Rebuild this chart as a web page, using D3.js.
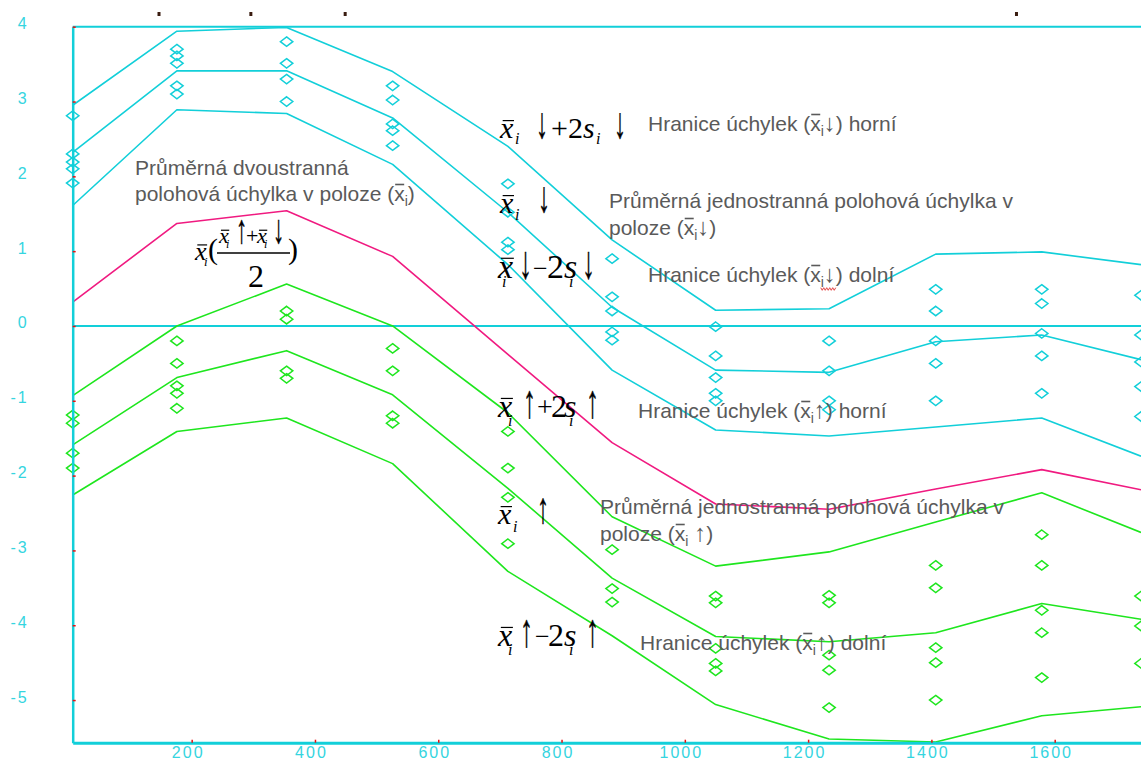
<!DOCTYPE html>
<html>
<head>
<meta charset="utf-8">
<script src="https://cdn.jsdelivr.net/npm/d3@7"></script>
<style>
  body { margin: 0; background: #fff; }
  svg { display: block; }
</style>
</head>
<body>
<svg id="chart" width="1141" height="760"></svg>
<script>
// Measurement positions along the travelled axis
const positions = [7, 176, 354, 526, 713, 882, 1050, 1234, 1407, 1579, 1740];

// Approach from above (x̄↓): mean and ±2s limits
const downUpper = [2.95, 3.94, 3.99, 3.40, 2.40, 1.15, 0.21, 0.23, 0.96, 0.99, 0.82];
const downMean  = [2.32, 3.41, 3.41, 2.78, 1.52, 0.25, -0.59, -0.62, -0.21, -0.12, -0.45];
const downLower = [1.61, 2.89, 2.84, 2.16, 0.82, -0.59, -1.39, -1.47, -1.35, -1.23, -1.74];

// Two-sided mean deviation x̄ = (x̄↑ + x̄↓) / 2
const bothMean = [0.32, 1.37, 1.54, 0.93, -0.38, -1.56, -2.38, -2.45, -2.18, -1.92, -2.19];

// Approach from below (x̄↑): mean and ±2s limits
const upUpper = [-0.93, 0.00, 0.56, 0.00, -1.16, -2.55, -3.21, -3.02, -2.62, -2.23, -2.76];
const upMean  = [-1.59, -0.69, -0.33, -0.92, -2.17, -3.37, -4.15, -4.22, -4.10, -3.71, -3.92];
const upLower = [-2.26, -1.41, -1.23, -1.84, -3.28, -4.14, -5.06, -5.52, -5.56, -5.21, -5.09];

// Individual readings at each position
const downReadings = [
  [2.81, 2.30, 2.19, 2.10, 1.91],
  [3.70, 3.61, 3.51, 3.21, 3.10],
  [3.80, 3.51, 3.30, 3.00],
  [3.21, 3.02, 2.70, 2.61, 2.41],
  [1.90, 1.52, 1.12, 1.02],
  [0.90, 0.39, 0.20, -0.08, -0.19],
  [-0.01, -0.40, -0.69, -0.90, -1.00],
  [-0.20, -0.60, -1.00, -1.12],
  [0.49, 0.20, -0.20, -0.50, -1.00],
  [0.49, 0.30, -0.10, -0.40, -0.90],
  [0.41, -0.12, -0.48, -0.81, -1.21]
];
const upReadings = [
  [-1.19, -1.30, -1.70, -1.90],
  [-0.20, -0.50, -0.80, -0.90, -1.10],
  [0.20, 0.09, -0.60, -0.70],
  [-0.30, -0.60, -1.20, -1.30],
  [-1.41, -1.90, -2.29, -2.91],
  [-2.99, -3.51, -3.69],
  [-3.61, -3.70, -4.31, -4.51, -4.61],
  [-3.60, -3.70, -4.40, -4.60, -5.10],
  [-3.20, -3.50, -4.30, -4.50, -5.00],
  [-2.79, -3.20, -3.80, -4.10, -4.70],
  [-3.61, -4.01, -4.51]
];

// Axis ticks
const xTicks = [200, 400, 600, 800, 1000, 1200, 1400, 1600];
const yTicks = [4, 3, 2, 1, 0, -1, -2, -3, -4, -5];
const topMarks = [147, 296, 449, 1538];

const CYAN = "#12cfd9";
const GREEN = "#1ee61e";
const MAGENTA = "#f01a80";
const AXIS_TEXT = "#35d5df";
const GRAY = "#5a5a5a";
const SANS = "'Liberation Sans', Arial, sans-serif";
const SERIF = "'Liberation Serif', 'Times New Roman', serif";

const svg = d3.select("#chart");
const x = d3.scaleLinear().domain([7, 1740]).range([72.7, 1141]);
const y = d3.scaleLinear().domain([-5.57, 4]).range([742.7, 26.7]);

// Reference lines at 4 and 0
svg.append("g").selectAll("line").data([4, 0]).join("line")
  .attr("x1", x.range()[0]).attr("x2", x.range()[1])
  .attr("y1", d => y(d)).attr("y2", d => y(d))
  .attr("stroke", CYAN).attr("stroke-width", 2);

// Small marks above the plot
svg.append("g").selectAll("rect").data(topMarks).join("rect")
  .attr("x", d => x(d) - 1.5).attr("y", 12).attr("width", 3).attr("height", 4)
  .attr("fill", "#3a1c10");

// Series lines
const line = d3.line().x((d, i) => x(positions[i])).y(d => y(d));
const series = [
  { v: downUpper, c: CYAN }, { v: downMean, c: CYAN }, { v: downLower, c: CYAN },
  { v: bothMean, c: MAGENTA },
  { v: upUpper, c: GREEN }, { v: upMean, c: GREEN }, { v: upLower, c: GREEN }
];
svg.append("g").selectAll("path").data(series).join("path")
  .attr("d", d => line(d.v))
  .attr("fill", "none").attr("stroke", d => d.c).attr("stroke-width", 1.6)
  .attr("stroke-linejoin", "round");

// Flattened diamond marker for the individual readings
const flatDiamond = {
  draw(ctx, size) {
    const w = Math.sqrt(size) * 0.62, h = w * 0.76;
    ctx.moveTo(0, -h); ctx.lineTo(w, 0); ctx.lineTo(0, h); ctx.lineTo(-w, 0); ctx.closePath();
  }
};
const sym = d3.symbol(flatDiamond, 100);
function readingPoints(rows, color) {
  const pts = rows.flatMap((vals, i) => vals.map(v => ({ px: positions[i], v })));
  svg.append("g").selectAll("path").data(pts).join("path")
    .attr("transform", d => `translate(${x(d.px)},${y(d.v)})`)
    .attr("d", sym)
    .attr("fill", "none").attr("stroke", color).attr("stroke-width", 1.5);
}
readingPoints(downReadings, CYAN);
readingPoints(upReadings, GREEN);

// Axes
const gx = svg.append("g").attr("transform", `translate(0,${y.range()[0]})`)
  .call(d3.axisBottom(x).tickValues(xTicks).tickSizeInner(-3).tickSizeOuter(0).tickFormat(d => String(d)));
gx.select(".domain").attr("stroke", CYAN).attr("stroke-width", 3);
gx.selectAll(".tick line").attr("stroke", "#e81010").attr("stroke-width", 1.5);
gx.selectAll(".tick text").attr("fill", AXIS_TEXT).attr("font-size", 16)
  .attr("font-family", SANS).attr("letter-spacing", 2)
  .attr("y", 15.5).attr("dy", 0).attr("dx", -4);

const gy = svg.append("g").attr("transform", `translate(${x.range()[0]},0)`)
  .call(d3.axisLeft(y).tickValues(yTicks).tickSizeInner(-3).tickSizeOuter(0).tickFormat(d => String(d)));
gy.select(".domain").attr("stroke", CYAN).attr("stroke-width", 2.5);
gy.selectAll(".tick line").attr("stroke", "#e81010").attr("stroke-width", 1.5);
gy.selectAll(".tick text").attr("fill", AXIS_TEXT).attr("font-size", 16)
  .attr("font-family", SANS).attr("letter-spacing", 2)
  .attr("x", -44).attr("y", 2).attr("dy", 0);

// Descriptive notes (sans serif, gray)
const notes = svg.append("g").attr("font-family", SANS).attr("font-size", 21).attr("fill", GRAY);
function noteLabel(x0, y0, segs) {
  const t = notes.append("text").attr("x", x0).attr("y", y0);
  let idx = 0, shifted = false;
  const bars = [], marks = {};
  segs.forEach(s => {
    if (typeof s === "string") s = { t: s };
    const ts = t.append("tspan").text(s.t);
    if (s.sub) { ts.attr("font-size", 14).attr("dy", 5); shifted = true; }
    else if (shifted) { ts.attr("dy", -5); shifted = false; }
    if (s.arrow) ts.attr("font-size", 24);
    if (s.bar) bars.push(idx);
    if (s.key) marks[s.key] = idx;
    idx += s.t.length;
  });
  bars.forEach(i => {
    const r = t.node().getExtentOfChar(i);
    notes.append("line")
      .attr("x1", r.x + 1).attr("x2", r.x + r.width - 0.5)
      .attr("y1", y0 - 16.5).attr("y2", y0 - 16.5)
      .attr("stroke", GRAY).attr("stroke-width", 1.6);
  });
  return { node: t.node(), marks };
}
const xbar = (arrow, tail, gap) => [
  "(", { t: "x", bar: true }, { t: "i", sub: true, key: "i" },
  ...(gap ? [" "] : []), { t: arrow, arrow: true, key: "a" }, ")" + tail
];

noteLabel(135, 175, ["Průměrná dvoustranná"]);
noteLabel(135, 201, ["polohová úchylka v poloze (", { t: "x", bar: true }, { t: "i", sub: true }, ")"]);
noteLabel(648, 131, ["Hranice úchylek ", ...xbar("↓", " horní")]);
noteLabel(609, 208, ["Průměrná jednostranná polohová úchylka v"]);
noteLabel(609, 235, ["poloze ", ...xbar("↓", "")]);
const lowDown = noteLabel(648, 282, ["Hranice úchylek ", ...xbar("↓", " dolní")]);
noteLabel(638, 418, ["Hranice úchylek ", ...xbar("↑", " horní")]);
noteLabel(600, 514, ["Průměrná jednostranná polohová úchylka v"]);
noteLabel(600, 541, ["poloze ", ...xbar("↑", "", true)]);
noteLabel(640, 650, ["Hranice úchylek ", ...xbar("↑", " dolní")]);

// Spell-check squiggle under "i↓"
{
  const r1 = lowDown.node.getExtentOfChar(lowDown.marks.i);
  const r2 = lowDown.node.getExtentOfChar(lowDown.marks.a);
  const x0 = r1.x, x1 = r2.x + r2.width, yb = 282 + 7;
  const pts = d3.range(x0, x1 + 0.1, 1.5).map((px, k) => [px, yb + (k % 2 ? 1.3 : -1.3)]);
  svg.append("path").attr("d", d3.line()(pts)).attr("fill", "none")
    .attr("stroke", "#e03030").attr("stroke-width", 0.9);
}

// Formula annotations (serif, black)
const maths = svg.append("g").attr("font-family", SERIF).attr("fill", "#000");
function mathLabel(x0, y0, parts) {
  const g = maths.append("g").attr("transform", `translate(${x0},${y0})`);
  parts.forEach(p => {
    const [txt, px, py, size, kind] = p;
    const t = g.append("text").text(txt);
    if (kind === "arrow") {
      // tall, narrow arrows with a thin outline so they stay solid black
      t.attr("transform", `translate(${px},${py}) scale(0.55,1)`)
        .attr("font-size", size * 1.45)
        .attr("stroke", "#000").attr("stroke-width", 0.5);
    } else {
      t.attr("x", px).attr("y", py).attr("font-size", size)
        .attr("font-style", kind ? "italic" : "normal");
    }
    if (kind === "bar") {
      const w = t.node().getComputedTextLength();
      g.append("line").attr("x1", px + w * 0.2).attr("x2", px + w * 1.05)
        .attr("y1", py - size * 0.58).attr("y2", py - size * 0.58)
        .attr("stroke", "#000").attr("stroke-width", 1.2);
    }
  });
  return g;
}

mathLabel(500, 138, [
  ["x", 0, 0, 30, "bar"], ["i", 15, 6, 16, "it"],
  ["↓", 36, 0, 30, "arrow"], ["+2", 51, 0, 30], ["s", 83, 0, 30, "it"], ["i", 96, 6, 16, "it"], ["↓", 114, 0, 30, "arrow"]
]);
mathLabel(500, 213, [
  ["x", 0, 0, 30, "bar"], ["i", 15, 7, 16, "it"], ["↓", 38, -1, 30, "arrow"]
]);
mathLabel(498, 278, [
  ["x", 0, 0, 34, "bar"], ["i", 4, 9, 16, "it"], ["↓", 21, 0, 32, "arrow"],
  ["−", 35, -1, 26], ["2", 49, 0, 34], ["s", 66, 0, 34, "it"], ["i", 71, 9, 16, "it"], ["↓", 84, 0, 32, "arrow"]
]);
mathLabel(498, 417, [
  ["x", 0, 0, 32, "bar"], ["i", 10, 9, 16, "it"], ["↑", 25, 0, 32, "arrow"],
  ["+", 39, -1, 28], ["2", 53, 0, 32], ["s", 66, 0, 32, "it"], ["i", 71, 9, 16, "it"], ["↑", 88, 0, 32, "arrow"]
]);
mathLabel(498, 524, [
  ["x", 0, 0, 30, "bar"], ["i", 15, 8, 16, "it"], ["↑", 39, -1, 30, "arrow"]
]);
mathLabel(498, 646, [
  ["x", 0, 0, 32, "bar"], ["i", 10, 9, 16, "it"], ["↑", 22, 0, 32, "arrow"],
  ["−", 37, -1, 26], ["2", 50, 0, 32], ["s", 66, 0, 32, "it"], ["i", 71, 9, 16, "it"], ["↑", 88, 0, 32, "arrow"]
]);

// Two-sided mean formula with a fraction
const frac = mathLabel(195, 260, [
  ["x", 0, 0, 26, "bar"], ["i", 9, 6, 13, "it"],
  ["(", 13, -1, 30],
  ["x", 24, -17, 22, "bar"], ["i", 31, -12, 12, "it"], ["↑", 41, -17, 28, "arrow"],
  ["+", 51, -17, 22], ["x", 62, -17, 22, "bar"], ["i", 69, -12, 12, "it"], ["↓", 78, -17, 28, "arrow"],
  ["2", 53, 27, 32],
  [")", 93, -1, 30]
]);
frac.append("line").attr("x1", 22).attr("x2", 95).attr("y1", -7).attr("y2", -7)
  .attr("stroke", "#000").attr("stroke-width", 1.4);
</script>
</body>
</html>
